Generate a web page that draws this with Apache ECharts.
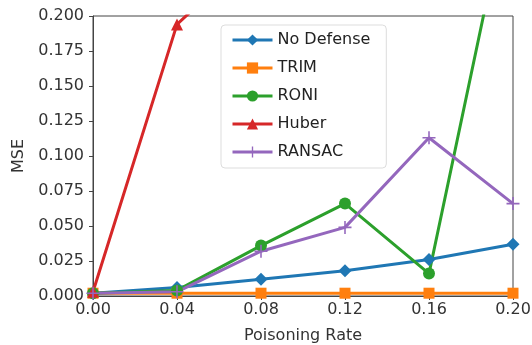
<!DOCTYPE html>
<html>
<head>
<meta charset="utf-8">
<script src="https://cdn.jsdelivr.net/npm/echarts@6/dist/echarts.min.js"></script>
<style>
html, body { margin: 0; padding: 0; background: #fff; }
#chart { width: 532px; height: 345px; }
</style>
</head>
<body>
<div id="chart"></div>
<script>
var rates = [0.00, 0.04, 0.08, 0.12, 0.16, 0.20];
var noDefense = [0.002, 0.006, 0.012, 0.018, 0.026, 0.037];
var trim = [0.002, 0.002, 0.002, 0.002, 0.002, 0.002];
var roni = [0.002, 0.004, 0.036, 0.066, 0.016, 0.30];
var huber = [0.003, 0.194, 0.25];
var ransac = [0.002, 0.003, 0.032, 0.049, 0.113, 0.066];

var font = "DejaVu Sans";
var textColor = "#333";
var plusIcon = "path://M4.4,0h1.2v10h-1.2z M0,4.4h10v1.2h-10z";
var diamondIcon = "path://M5,0L10,5L5,10L0,5z";

function pairs(ys) {
	return ys.map(function (y, i) {
		return [rates[i], y];
	});
}

function line(name, ys, color, symbol, size) {
	return {
		name: name,
		type: "line",
		data: pairs(ys),
		symbol: symbol,
		symbolSize: size,
		showAllSymbol: true,
		clip: true,
		lineStyle: { color: color, width: 3 },
		itemStyle: { color: color },
		emphasis: { disabled: true },
		animation: false
	};
}

var myChart = echarts.init(document.getElementById("chart"), null, { renderer: "canvas" });
var option = {
	backgroundColor: "#fff",
	grid: {
		left: 93,
		right: 19,
		top: 16,
		bottom: 49,
		outerBoundsMode: "none",
		show: true,
		borderColor: "#444",
		borderWidth: 1
	},
	legend: {
		orient: "vertical",
		left: 221,
		top: 25,
		itemWidth: 40,
		itemHeight: 14,
		itemGap: 12,
		padding: [7, 16, 8, 10],
		borderColor: "#ddd",
		borderWidth: 1,
		borderRadius: 4,
		lineStyle: { width: 3 },
		textStyle: { fontFamily: font, fontSize: 16, color: "#222" },
		data: ["No Defense", "TRIM", "RONI", "Huber", "RANSAC"]
	},
	xAxis: {
		type: "value",
		min: 0,
		max: 0.2,
		interval: 0.04,
		name: "Poisoning Rate",
		nameLocation: "middle",
		nameGap: 32,
		nameTextStyle: { fontFamily: font, fontSize: 16, color: textColor },
		axisLine: { show: true, lineStyle: { color: "#444" } },
		axisTick: { show: true, length: 4, lineStyle: { color: "#444" } },
		axisLabel: {
			fontFamily: font,
			fontSize: 16,
			color: textColor,
			margin: 6,
			formatter: function (v) { return v.toFixed(2); }
		},
		splitLine: { show: false }
	},
	yAxis: {
		type: "value",
		min: 0,
		max: 0.2,
		interval: 0.025,
		name: "MSE",
		nameLocation: "middle",
		nameGap: 66,
		nameTextStyle: { fontFamily: font, fontSize: 16, color: textColor },
		axisLine: { show: true, lineStyle: { color: "#444" } },
		axisTick: { show: true, length: 4, lineStyle: { color: "#444" } },
		axisLabel: {
			fontFamily: font,
			fontSize: 16,
			color: textColor,
			margin: 9,
			formatter: function (v) { return v.toFixed(3); }
		},
		splitLine: { show: false }
	},
	series: [
		line("No Defense", noDefense, "#1f77b4", diamondIcon, 13),
		line("TRIM", trim, "#ff7f0e", "rect", 11),
		line("RONI", roni, "#2ca02c", "circle", 12),
		line("Huber", huber, "#d62728", "triangle", 12),
		line("RANSAC", ransac, "#9467bd", plusIcon, 13)
	]
};
myChart.setOption(option);
window.addEventListener("resize", myChart.resize);
</script>
</body>
</html>
